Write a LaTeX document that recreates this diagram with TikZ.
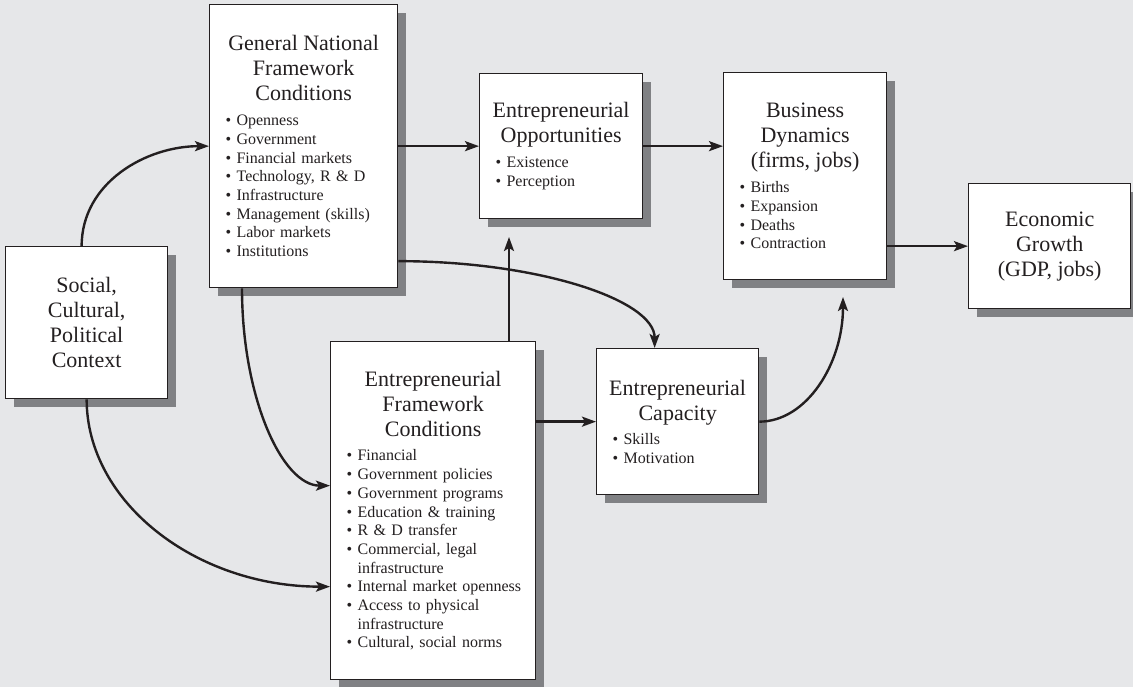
\documentclass[tikz,border=0pt]{standalone}
\usepackage{fontspec}
\setmainfont{Liberation Serif}
\usepackage{xcolor}
\usetikzlibrary{arrows.meta,shadows}

\definecolor{panelgray}{HTML}{E6E7E9}
\definecolor{shadowgray}{HTML}{808184}
\definecolor{inkblack}{HTML}{231F20}

\newcommand{\bigtxt}{\fontsize{22}{25}\selectfont}
\newcommand{\ttl}[1]{\makebox[\hsize]{#1}\par}
\newcommand{\itm}[1]{\mbox{\textbullet~#1}\par}
\newcommand{\cnt}[1]{\mbox{\phantom{\textbullet~}#1}\par}

\tikzset{
  box/.style={draw=inkblack, line width=1.3pt, fill=white, anchor=north west,
    inner xsep=16pt, inner ysep=0pt, align=left, text=inkblack,
    font=\fontsize{16}{18.7}\selectfont,
    execute at begin node={\setlength{\parindent}{0pt}},
    drop shadow={shadow xshift=8pt, shadow yshift=-8pt, fill=shadowgray, opacity=1}},
  arr/.style={line width=2.4pt, draw=inkblack,
    -{Stealth[length=14pt,width=10pt,inset=3pt]}}
}

\begin{document}
\begin{tikzpicture}[x=1pt,y=1pt]
\fill[panelgray] (0,0) rectangle (1133,-687);
\useasboundingbox (0,0) rectangle (1133,-687);

\node[box, text width=130pt, minimum height=152pt] (soc) at (5,-246)
  {{\bigtxt\ttl{Social,}\ttl{Cultural,}\ttl{Political}\ttl{Context}}};

\node[box, text width=156pt, minimum height=283pt] (gnfc) at (209,-4)
  {{\bigtxt\ttl{General National}\ttl{Framework}\ttl{Conditions}}\vskip6pt
   \itm{Openness}\itm{Government}\itm{Financial markets}\itm{Technology, R \& D}
   \itm{Infrastructure}\itm{Management (skills)}\itm{Labor markets}\itm{Institutions}};

\node[box, text width=131pt, minimum height=145pt] (eo) at (479,-73)
  {{\bigtxt\ttl{Entrepreneurial}\ttl{Opportunities}}\vskip6pt
   \itm{Existence}\itm{Perception}};

\node[box, text width=131pt, minimum height=207pt] (bd) at (723,-72)
  {{\bigtxt\ttl{Business}\ttl{Dynamics}\ttl{(firms, jobs)}}\vskip6pt
   \itm{Births}\itm{Expansion}\itm{Deaths}\itm{Contraction}};

\node[box, text width=130pt, minimum height=125pt] (eg) at (968,-183)
  {{\bigtxt\ttl{Economic}\ttl{Growth}\ttl{(GDP, jobs)}}};

\node[box, text width=173pt, minimum height=338pt] (efc) at (330,-341)
  {{\bigtxt\ttl{Entrepreneurial}\ttl{Framework}\ttl{Conditions}}\vskip6pt
   \itm{Financial}\itm{Government policies}\itm{Government programs}
   \itm{Education \& training}\itm{R \& D transfer}\itm{Commercial, legal}
   \cnt{infrastructure}\itm{Internal market openness}\itm{Access to physical}
   \cnt{infrastructure}\itm{Cultural, social norms}};

\node[box, text width=130pt, minimum height=146pt] (ec) at (596,-348)
  {{\bigtxt\ttl{Entrepreneurial}\ttl{Capacity}}\vskip6pt
   \itm{Skills}\itm{Motivation}};

\coordinate (eoin) at (509,-237);
\coordinate (bdin) at (843,-297);

\draw[arr] ([xshift=-5pt]soc.north) to[out=90,in=180] (gnfc.west);
\draw[arr] (gnfc.east) -- (gnfc.east -| eo.west);
\draw[arr] (eo.east) -- (eo.east -| bd.west);
\draw[arr] (bd.east |- eg.west) -- (eg.west);
\draw[arr] (efc.east |- ec.west) -- (ec.west);
\draw[arr] (efc.north -| eoin) -- (eoin);
\draw[arr] ([yshift=-115pt]gnfc.east) to[out=0,in=90,out distance=140pt,in distance=48pt] ([xshift=-23pt]ec.north);
\draw[arr] ([xshift=33pt]gnfc.south west) to[out=-90,in=180,out distance=109pt,in distance=48pt] ([yshift=25pt]efc.west);
\draw[arr] (soc.south) to[out=-90,in=180,out distance=103pt,in distance=134pt] ([yshift=-76pt]efc.west);
\draw[arr] (ec.east) to[out=0,in=-90,out distance=47pt,in distance=67pt] (bdin);
\end{tikzpicture}
\end{document}
